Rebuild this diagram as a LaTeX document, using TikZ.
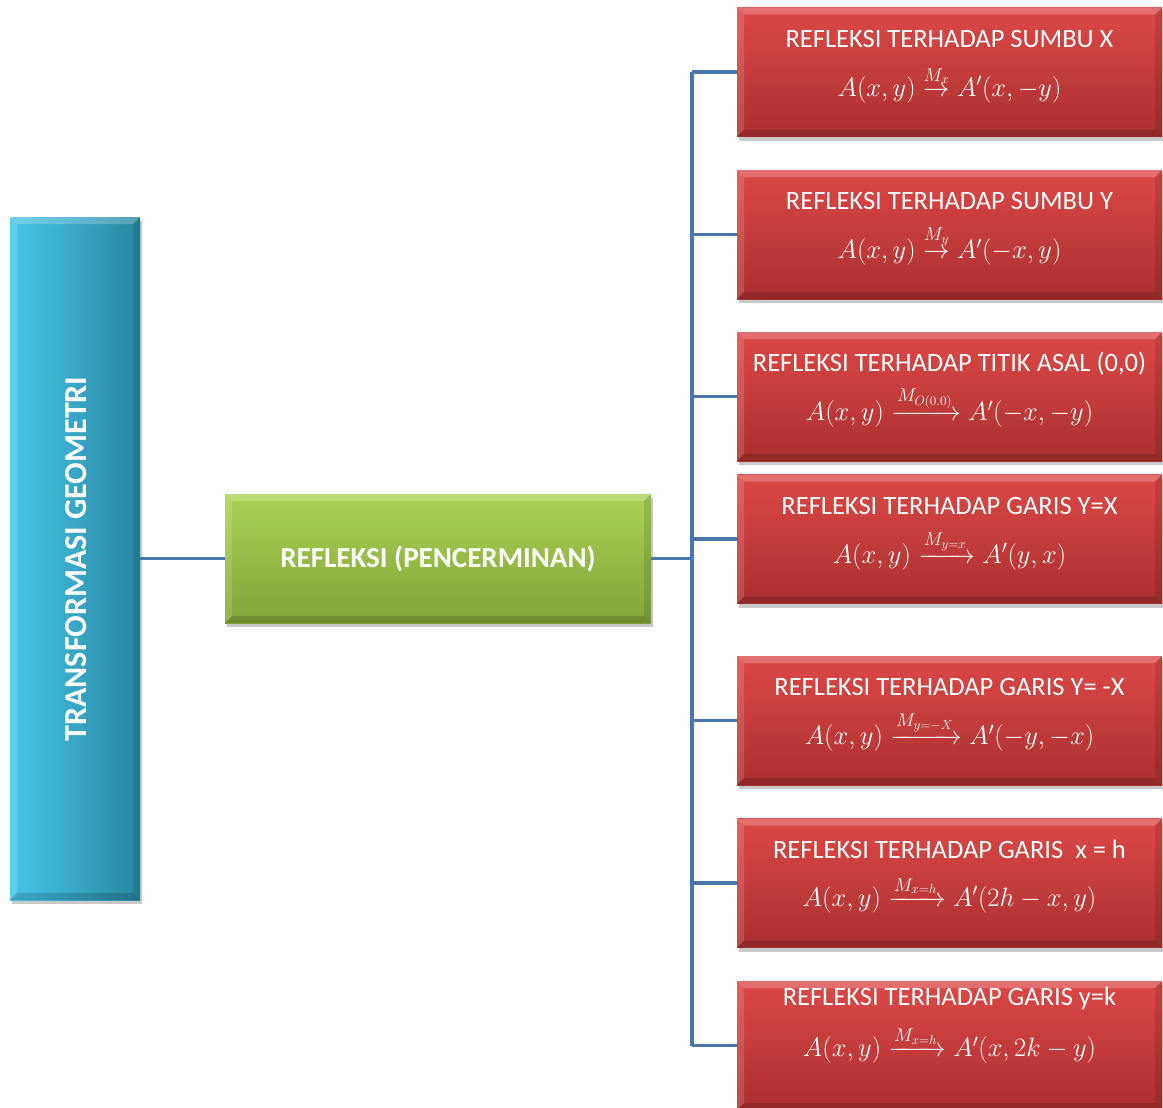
\documentclass[tikz,border=0pt]{standalone}
\usepackage{fix-cm}
\usepackage{amsmath}
\usepackage{fontspec}
\setmainfont{Carlito}
\usetikzlibrary{shadows,calc}
\definecolor{conncol}{RGB}{74,118,172}
\definecolor{redtop}{RGB}{220,72,70}
\definecolor{redbot}{RGB}{170,48,46}
\definecolor{greentop}{RGB}{170,210,84}
\definecolor{greenbot}{RGB}{130,164,58}
\definecolor{blueleft}{RGB}{72,198,234}
\definecolor{blueright}{RGB}{40,134,160}
\tikzset{
  bevel/.style={path picture={
    \path (path picture bounding box.north west) coordinate (bnw)
          (path picture bounding box.north east) coordinate (bne)
          (path picture bounding box.south west) coordinate (bsw)
          (path picture bounding box.south east) coordinate (bse);
    \fill[white,opacity=0.22] (bnw) -- (bne) -- ([xshift=-7pt,yshift=-7pt]bne) -- ([xshift=7pt,yshift=-7pt]bnw) -- cycle;
    \fill[white,opacity=0.14] (bnw) -- ([xshift=7pt,yshift=-7pt]bnw) -- ([xshift=7pt,yshift=7pt]bsw) -- (bsw) -- cycle;
    \fill[black,opacity=0.10] (bne) -- ([xshift=-7pt,yshift=-7pt]bne) -- ([xshift=-7pt,yshift=7pt]bse) -- (bse) -- cycle;
    \fill[black,opacity=0.15] (bsw) -- ([xshift=7pt,yshift=7pt]bsw) -- ([xshift=-7pt,yshift=7pt]bse) -- (bse) -- cycle;
  }},
  boxshadow/.style={drop shadow={shadow xshift=2pt,shadow yshift=-4pt,opacity=0.3,fill=black!70}},
  redbox/.style={rectangle,draw=none,minimum width=425pt,minimum height=129pt,
    top color=redtop,bottom color=redbot,boxshadow,bevel},
  greenbox/.style={rectangle,draw=none,minimum width=426pt,minimum height=129pt,
    top color=greentop,bottom color=greenbot,boxshadow,bevel},
  bluebox/.style={rectangle,draw=none,minimum width=130pt,minimum height=683pt,
    left color=blueleft,right color=blueright,boxshadow,bevel},
  ttl/.style={text=white,font=\fontsize{26.5}{30}\selectfont,anchor=base,inner sep=0pt},
  frm/.style={text=white,font=\fontsize{26.5}{32}\selectfont,anchor=base,inner sep=0pt},
  greenttl/.style={text=white,font=\fontsize{29}{34}\selectfont\bfseries,inner sep=0pt},
  bluettl/.style={text=white,font=\fontsize{32}{36}\selectfont\bfseries,inner sep=0pt},
  conn/.style={draw=conncol,line width=3.5pt},
}
\begin{document}
\begin{tikzpicture}[x=1pt,y=-1pt]
\useasboundingbox (0,0) rectangle (1163,1108);
% boxes
\node[bluebox] (tg) at (75,558.5) {};
\node[bluettl,rotate=90] (tgt) at (76,559) {TRANSFORMASI GEOMETRI};
\node[greenbox] (rf) at (438,558.5) {};
\node[greenttl] (rft) at (rf.center) {REFLEKSI (PENCERMINAN)};
\node[redbox] (r1) at (949.5,72) {};
\node[redbox] (r2) at (949.5,234.5) {};
\node[redbox] (r3) at (949.5,396.5) {};
\node[redbox] (r4) at (949.5,539) {};
\node[redbox] (r5) at (949.5,720.5) {};
\node[redbox] (r6) at (949.5,883) {};
\node[redbox] (r7) at (949.5,1045.5) {};
% texts
\node[ttl] (t1) at ($(r1.north)+(0,40)$) {REFLEKSI TERHADAP SUMBU X};
\node[frm] (f1) at ($(r1.north)+(0,89)$) {$A(x,y)\overset{M_x}{\rightarrow}A'(x,-y)$};
\node[ttl] (t2) at ($(r2.north)+(0,40)$) {REFLEKSI TERHADAP SUMBU Y};
\node[frm] (f2) at ($(r2.north)+(0,89)$) {$A(x,y)\overset{M_y}{\rightarrow}A'(-x,y)$};
\node[ttl] (t3) at ($(r3.north)+(0,40)$) {REFLEKSI TERHADAP TITIK ASAL (0,0)};
\node[frm] (f3) at ($(r3.north)+(0,89)$) {$A(x,y)\xrightarrow{M_{O(0.0)}}A'(-x,-y)$};
\node[ttl] (t4) at ($(r4.north)+(0,40)$) {REFLEKSI TERHADAP GARIS Y=X};
\node[frm] (f4) at ($(r4.north)+(0,89)$) {$A(x,y)\xrightarrow{M_{y=x}}A'(y,x)$};
\node[ttl] (t5) at ($(r5.north)+(0,40)$) {REFLEKSI TERHADAP GARIS Y= -X};
\node[frm] (f5) at ($(r5.north)+(0,89)$) {$A(x,y)\xrightarrow{M_{y=-X}}A'(-y,-x)$};
\node[ttl] (t6) at ($(r6.north)+(0,40)$) {REFLEKSI TERHADAP GARIS \ x = h};
\node[frm] (f6) at ($(r6.north)+(0,88)$) {$A(x,y)\xrightarrow{M_{x=h}}A'(2h-x,y)$};
\node[ttl] (t7) at ($(r7.north)+(0,25)$) {REFLEKSI TERHADAP GARIS y=k};
\node[frm] (f7) at ($(r7.north)+(0,76)$) {$A(x,y)\xrightarrow{M_{x=h}}A'(x,2k-y)$};
% connectors
\coordinate (tr) at (692,558.5);
\draw[conn] (tg.east) -- (rf.west);
\draw[conn] (rf.east) -- (tr);
\draw[conn] (r1.west -| tr) -- (r7.west -| tr);
\foreach \r in {r1,r2,r3,r4,r5,r6,r7}{
  \draw[conn] (\r.west -| tr) -- (\r.west);
}
\end{tikzpicture}
\end{document}
